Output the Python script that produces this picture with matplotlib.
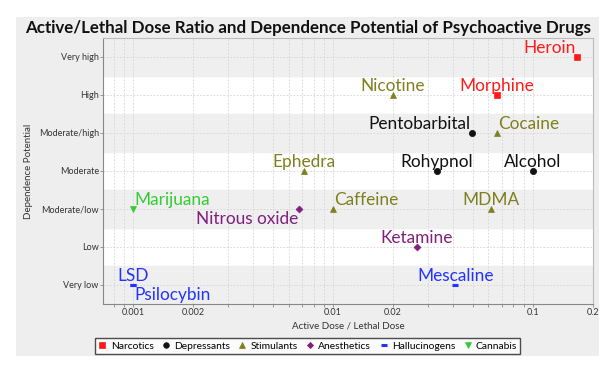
import matplotlib
matplotlib.use('Agg')
import matplotlib.pyplot as plt
from matplotlib.patches import Rectangle
from matplotlib.lines import Line2D
from matplotlib.ticker import LogLocator, FixedLocator, FixedFormatter, NullFormatter
import numpy as np

plt.rcParams['font.family'] = ['Lato', 'DejaVu Sans']

drugs = ['Heroin', 'Morphine', 'Nicotine', 'Pentobarbital', 'Cocaine', 'Ephedra',
         'Rohypnol', 'Alcohol', 'Marijuana', 'Nitrous oxide', 'Caffeine', 'MDMA',
         'Ketamine', 'LSD', 'Psilocybin', 'Mescaline']
ratio = [0.166, 0.066, 0.02, 0.0497, 0.066, 0.0072, 0.033, 0.1, 0.001, 0.0068,
         0.01, 0.062, 0.0263, 0.001, 0.001, 0.041]
dependence = [7, 6, 6, 5, 5, 4, 4, 4, 3, 3, 3, 3, 2, 1, 1, 1]
category = ['Narcotics', 'Narcotics', 'Stimulants', 'Depressants', 'Stimulants',
            'Stimulants', 'Depressants', 'Depressants', 'Cannabis', 'Anesthetics',
            'Stimulants', 'Stimulants', 'Anesthetics', 'Hallucinogens',
            'Hallucinogens', 'Hallucinogens']
levels = ['Very low', 'Low', 'Moderate/low', 'Moderate', 'Moderate/high', 'High', 'Very high']
categories = ['Narcotics', 'Depressants', 'Stimulants', 'Anesthetics', 'Hallucinogens', 'Cannabis']
xticks = [0.001, 0.002, 0.01, 0.02, 0.1, 0.2]
xticklabels = ['0.001', '0.002', '0.01', '0.02', '0.1', '0.2']

# styling per category
colors = {'Narcotics': '#ff1a1a', 'Depressants': '#111111', 'Stimulants': '#7f7f1f',
          'Anesthetics': '#7f1f7f', 'Hallucinogens': '#2233ff', 'Cannabis': '#33cc33'}
markers = {'Narcotics': ('s', 4.5, 0.5), 'Depressants': ('o', 4.5, 0.5),
           'Stimulants': ('^', 4.5, 0.5), 'Anesthetics': ('D', 3.5, 0.5),
           'Hallucinogens': ('_', 5, 2.2), 'Cannabis': ('v', 5, 0.5)}
# label placement: (horizontal alignment, above/below)
placement = {'Heroin': ('right', 'above'), 'Pentobarbital': ('right', 'above'),
             'Cocaine': ('left', 'above'), 'Marijuana': ('left', 'above'),
             'Nitrous oxide': ('right', 'below'), 'Caffeine': ('left', 'above'),
             'Psilocybin': ('left', 'below')}

fig = plt.figure(figsize=(6.13, 3.70), dpi=100)
fig.add_artist(Rectangle((16 / 613, 1 - 356 / 370), 583 / 613, 339 / 370,
                         transform=fig.transFigure, facecolor='#eeeeee',
                         edgecolor='none', zorder=-5))
ax = fig.add_axes([103 / 613, 1 - 304 / 370, 490 / 613, 266 / 370])
ax.set_zorder(2)
ax.set_facecolor('white')

for k in range(1, 8, 2):
    ax.axhspan(k - 0.5, k + 0.5, color='#efefef', zorder=0)

ax.set_xscale('log')
ax.set_xlim(7.08e-4, 0.2)
ax.set_ylim(0.5, 7.5)

ax.xaxis.set_major_locator(FixedLocator(xticks))
ax.xaxis.set_major_formatter(FixedFormatter(xticklabels))
ax.xaxis.set_minor_locator(LogLocator(base=10, subs=np.arange(1, 10)))
ax.xaxis.set_minor_formatter(NullFormatter())
ax.set_yticks(range(1, 8))
ax.set_yticklabels(levels)

ax.grid(True, which='both', axis='x', color='#d4d4d4', linestyle=(0, (2, 2)), linewidth=0.6)
ax.grid(True, which='major', axis='y', color='#d4d4d4', linestyle=(0, (2, 2)), linewidth=0.6)
ax.set_axisbelow(True)

ax.tick_params(axis='both', which='both', direction='out', length=2, width=0.6,
               color='#888888', labelsize=6.5, labelcolor='#333333', pad=1)
for s in ax.spines.values():
    s.set_color('#bbbbbb')
    s.set_linewidth(0.8)
ax.spines['left'].set_color('#888888')
ax.spines['bottom'].set_color('#888888')

for name, x, y, cat in zip(drugs, ratio, dependence, category):
    m, ms, mew = markers[cat]
    ax.plot([x], [y], linestyle='none', marker=m, markersize=ms, markeredgewidth=mew,
            color=colors[cat], zorder=3)
    ha, side = placement.get(name, ('center', 'above'))
    dx = {'left': 1, 'right': -1, 'center': 0}[ha]
    if side == 'above':
        ax.annotate(name, (x, y), xytext=(dx, 3), textcoords='offset points',
                    ha=ha, va='baseline', fontsize=12.4, color=colors[cat], zorder=4)
    else:
        ax.annotate(name, (x, y), xytext=(dx, -1.5), textcoords='offset points',
                    ha=ha, va='top', fontsize=12.4, color=colors[cat], zorder=4)

ax.set_xlabel('Active Dose / Lethal Dose', fontsize=7, color='#333333', labelpad=3)
ax.set_ylabel('Dependence Potential', fontsize=7, color='#333333', labelpad=4)

fig.text(0.502, 1 - 28 / 370, 'Active/Lethal Dose Ratio and Dependence Potential of Psychoactive Drugs',
         ha='center', va='center', fontsize=12.2, fontweight='bold', color='#111111')

handles = []
for cat in categories:
    m, ms, mew = markers[cat]
    handles.append(Line2D([], [], linestyle='none', marker=m, markersize=ms * 0.9,
                          markeredgewidth=mew, color=colors[cat]))
leg = fig.legend(handles, categories, loc='center', bbox_to_anchor=(0.502, 1 - 346 / 370),
                 ncol=6, fontsize=7.4, frameon=True, fancybox=False, handlelength=0.8,
                 handletextpad=0.4, columnspacing=0.8, borderpad=0.3, borderaxespad=0)
leg.get_frame().set_edgecolor('#222222')
leg.get_frame().set_linewidth(1.0)
leg.get_frame().set_facecolor('white')

fig.savefig('out.png', dpi=100)
